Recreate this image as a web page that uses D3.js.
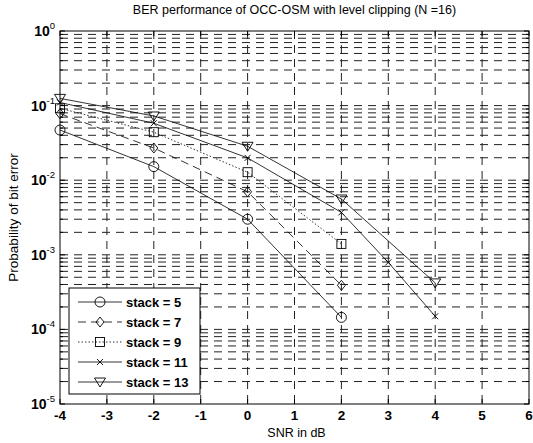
<!doctype html>
<html>
<head>
<meta charset="utf-8">
<script src="https://cdn.jsdelivr.net/npm/d3@7"></script>
<style>
  body { margin: 0; background: #fff; }
  text { font-family: "Liberation Sans", Arial, sans-serif; fill: #000; }
</style>
</head>
<body>
<div id="chart"></div>
<script>
// data
var xTicks = [-4, -3, -2, -1, 0, 1, 2, 3, 4, 5, 6];
var yDecades = [0, -1, -2, -3, -4, -5];

var stack5  = [[-4, 0.047], [-2, 0.0152], [0, 0.0030], [2, 0.000145]];
var stack7  = [[-4, 0.078], [-2, 0.027], [0, 0.0070], [2, 0.00039]];
var stack9  = [[-4, 0.092], [-2, 0.044], [0, 0.0128], [2, 0.0014]];
var stack11 = [[-4, 0.110], [-2, 0.058], [0, 0.0199], [2, 0.0037], [3, 0.00079], [4, 0.00015]];
var stack13 = [[-4, 0.125], [-2, 0.0726], [0, 0.0285], [2, 0.0056], [4, 0.00042]];

var labels = ["stack = 5", "stack = 7", "stack = 9", "stack = 11", "stack = 13"];

var series = [
  {name: labels[0], data: stack5,  dash: null,  marker: "circle"},
  {name: labels[1], data: stack7,  dash: "8,5", marker: "diamond"},
  {name: labels[2], data: stack9,  dash: "1.5,2", marker: "square"},
  {name: labels[3], data: stack11, dash: null,  marker: "x"},
  {name: labels[4], data: stack13, dash: null,  marker: "tri"}
];

var W = 533, H = 443;
var margin = {top: 31, right: 4, bottom: 39, left: 60};
var width = W - margin.left - margin.right,
    height = H - margin.top - margin.bottom;

var svg = d3.select("#chart").append("svg")
    .attr("width", W).attr("height", H);
var g = svg.append("g")
    .attr("transform", "translate(" + margin.left + "," + margin.top + ")");

var x = d3.scaleLinear().domain([-4, 6]).range([0, width]);
var y = d3.scaleLog().domain([1e-5, 1]).range([height, 0]);

// minor values of the log axis
var minors = [];
yDecades.slice(1).forEach(function(e) {
  for (var k = 2; k <= 9; k++) minors.push(k * Math.pow(10, e));
});

// grid
var grid = g.append("g").attr("stroke", "#222").attr("stroke-width", 1)
    .attr("stroke-dasharray", "8,6");
grid.selectAll(".vg").data(xTicks.slice(1, -1)).enter().append("line")
    .attr("x1", function(d) { return x(d); }).attr("x2", function(d) { return x(d); })
    .attr("y1", 0).attr("y2", height);
grid.selectAll(".hg").data(minors.concat(yDecades.slice(1, -1).map(function(e) { return Math.pow(10, e); })))
  .enter().append("line")
    .attr("x1", 0).attr("x2", width)
    .attr("y1", function(d) { return y(d); }).attr("y2", function(d) { return y(d); });

// ticks inside the box
var tk = g.append("g").attr("stroke", "#000").attr("stroke-width", 1);
xTicks.forEach(function(d) {
  tk.append("line").attr("x1", x(d)).attr("x2", x(d)).attr("y1", height).attr("y2", height - 5);
  tk.append("line").attr("x1", x(d)).attr("x2", x(d)).attr("y1", 0).attr("y2", 5);
});
yDecades.forEach(function(e) {
  var v = Math.pow(10, e);
  tk.append("line").attr("x1", 0).attr("x2", 5).attr("y1", y(v)).attr("y2", y(v));
  tk.append("line").attr("x1", width).attr("x2", width - 5).attr("y1", y(v)).attr("y2", y(v));
});
minors.forEach(function(v) {
  tk.append("line").attr("x1", 0).attr("x2", 3).attr("y1", y(v)).attr("y2", y(v));
  tk.append("line").attr("x1", width).attr("x2", width - 3).attr("y1", y(v)).attr("y2", y(v));
});

// box
g.append("rect").attr("width", width).attr("height", height)
    .attr("fill", "none").attr("stroke", "#000").attr("stroke-width", 1);

// tick labels
g.selectAll(".xl").data(xTicks).enter().append("text")
    .attr("x", function(d) { return x(d); }).attr("y", height + 16)
    .attr("text-anchor", "middle").style("font-size", "13.5px").style("font-weight", "bold")
    .text(function(d) { return d; });

var yl = g.selectAll(".yl").data(yDecades).enter().append("text")
    .attr("x", -5).attr("y", function(e) { return y(Math.pow(10, e)) + 5; })
    .attr("text-anchor", "end").style("font-size", "14px").style("font-weight", "bold");
yl.append("tspan").text("10");
yl.append("tspan").attr("dy", -7).style("font-size", "9.5px").style("font-weight", "normal")
    .text(function(e) { return e; });

// titles
svg.append("text").attr("x", margin.left + width / 2).attr("y", 14)
    .attr("text-anchor", "middle").style("font-size", "12.5px")
    .text("BER performance of OCC-OSM with level clipping (N =16)");
svg.append("text").attr("x", margin.left + width / 2 + 2).attr("y", 437)
    .attr("text-anchor", "middle").style("font-size", "12.5px")
    .text("SNR in dB");
svg.append("text")
    .attr("transform", "translate(18," + (margin.top + height / 2) + ") rotate(-90)")
    .attr("text-anchor", "middle").style("font-size", "13.5px")
    .text("Probability of bit error");

// markers
function drawMarker(sel, type, cx, cy) {
  var m = sel.append("g").attr("transform", "translate(" + cx + "," + cy + ")")
      .attr("fill", "none").attr("stroke", "#000").attr("stroke-width", 0.9);
  if (type === "circle") m.append("circle").attr("r", 5);
  if (type === "diamond") m.append("path").attr("d", "M0,-5L4,0L0,5L-4,0Z");
  if (type === "square") m.append("rect").attr("x", -4.5).attr("y", -4.5).attr("width", 9).attr("height", 9);
  if (type === "x") m.append("path").attr("d", "M-3,-3L3,3M-3,3L3,-3");
  if (type === "tri") m.append("path").attr("d", "M-5.5,-4L5.5,-4L0,5Z");
}

var line = d3.line().x(function(d) { return x(d[0]); }).y(function(d) { return y(d[1]); });

series.forEach(function(s) {
  g.append("path").datum(s.data).attr("d", line)
      .attr("fill", "none").attr("stroke", "#000").attr("stroke-width", 0.8)
      .attr("stroke-dasharray", s.dash);
  s.data.forEach(function(d) { drawMarker(g, s.marker, x(d[0]), y(d[1])); });
});

// legend
var lg = g.append("g").attr("transform", "translate(9,257)");
lg.append("rect").attr("width", 131).attr("height", 106)
    .attr("fill", "#fff").attr("stroke", "#000").attr("stroke-width", 1);
series.forEach(function(s, i) {
  var ly = 14 + i * 20;
  lg.append("line").attr("x1", 9).attr("x2", 53).attr("y1", ly).attr("y2", ly)
      .attr("stroke", "#000").attr("stroke-width", 0.8).attr("stroke-dasharray", s.dash);
  drawMarker(lg, s.marker, 31, ly);
  lg.append("text").attr("x", 57).attr("y", ly + 5)
      .style("font-size", "13px").style("font-weight", "bold").text(s.name);
});
</script>
</body>
</html>
